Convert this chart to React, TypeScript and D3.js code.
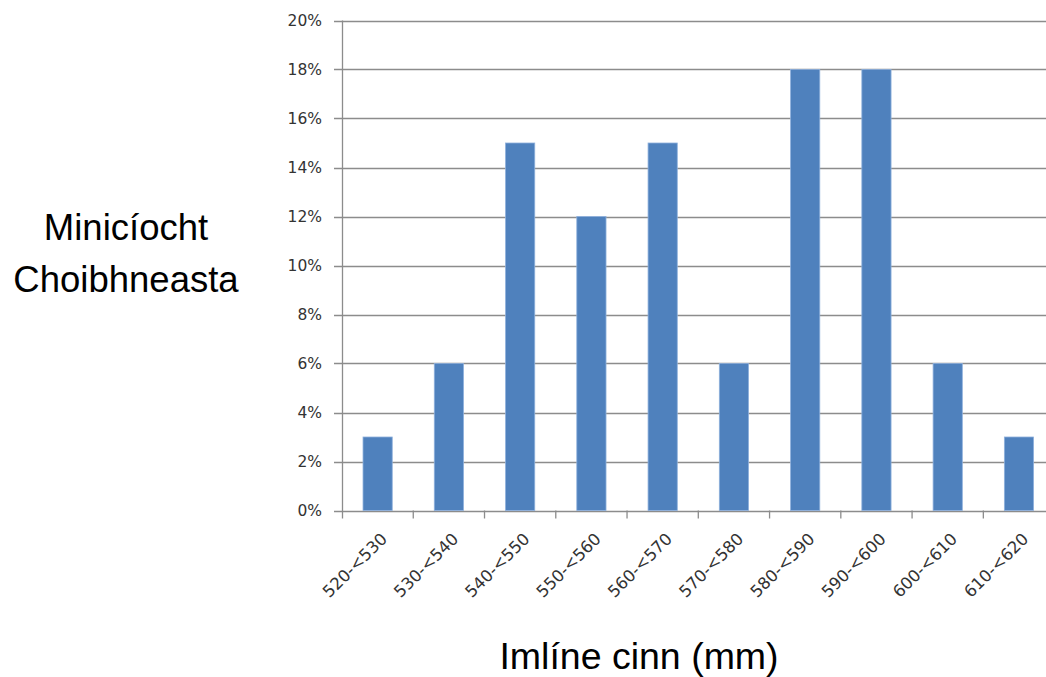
import React from "react";
import * as d3 from "d3";

const categories = ["520-<530", "530-<540", "540-<550", "550-<560", "560-<570", "570-<580", "580-<590", "590-<600", "600-<610", "610-<620"];
const values = [3, 6, 15, 12, 15, 6, 18, 18, 6, 3];
const yTicks = [0, 2, 4, 6, 8, 10, 12, 14, 16, 18, 20];
const yTitleLines = ["Minicíocht", "Choibhneasta"];
const xTitle = "Imlíne cinn (mm)";

export default function App() {
  const W = 1046, H = 677;
  const left = 342, right = 1054.6, top = 20.5, bottom = 510.5;
  const x = d3.scaleBand<string>().domain(categories).range([left, right]).paddingInner(0).paddingOuter(0);
  const y = d3.scaleLinear().domain([0, 20]).range([bottom, top]);
  const bw = x.bandwidth();
  const barW = bw * 0.41;
  const tickFont = "'DejaVu Sans', sans-serif";
  const titleFont = "'Liberation Sans', Arial, sans-serif";
  return (
    <svg width={W} height={H} style={{ position: "absolute", left: 0, top: 0, background: "#fff" }}>
      {yTicks.map((t) => (
        <g key={t}>
          <line x1={334} x2={W} y1={Math.round(y(t)) + 0.5} y2={Math.round(y(t)) + 0.5} stroke="#8c8c8c" strokeWidth={1.3} />
          <text x={322} y={y(t)} dy="0.36em" textAnchor="end" fontFamily={tickFont} fontSize={15.5} fill="#333">{t}%</text>
        </g>
      ))}
      <line x1={left + 0.5} x2={left + 0.5} y1={top} y2={bottom + 8} stroke="#8c8c8c" strokeWidth={1.3} />
      {categories.map((c) => (
        <line key={c} x1={x(c)! + bw} x2={x(c)! + bw} y1={bottom} y2={bottom + 8} stroke="#8c8c8c" strokeWidth={1.3} />
      ))}
      {categories.map((c, i) => {
        const cx = x(c)! + bw / 2;
        return (
          <rect key={c} x={cx - barW / 2} y={y(values[i])} width={barW} height={bottom - y(values[i])} fill="#4F81BD" stroke="#8eb0dc" strokeWidth={0.8} />
        );
      })}
      {categories.map((c) => {
        const bx = x(c)! + bw / 2 + 10.5;
        const by = 540;
        return (
          <text key={c} transform={`translate(${bx},${by}) rotate(-45)`} textAnchor="end" fontFamily={tickFont} fontSize={16.5} fill="#333">{c}</text>
        );
      })}
      {yTitleLines.map((l, i) => (
        <text key={l} x={126} y={240 + i * 52} textAnchor="middle" fontFamily={titleFont} fontSize={36.5} fill="#000">{l}</text>
      ))}
      <text x={639} y={669} textAnchor="middle" fontFamily={titleFont} fontSize={37.5} fill="#000">{xTitle}</text>
    </svg>
  );
}
